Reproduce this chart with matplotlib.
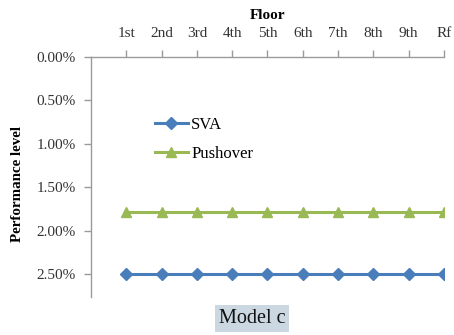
import matplotlib
matplotlib.use("Agg")
import matplotlib.pyplot as plt
from matplotlib.ticker import FuncFormatter

floors = ["1st", "2nd", "3rd", "4th", "5th", "6th", "7th", "8th", "9th", "Rf"]
sva = [2.50] * 10
pushover = [1.78] * 10
yticks = [0.0, 0.5, 1.0, 1.5, 2.0, 2.5]

plt.rcParams['font.family'] = ['Liberation Serif', 'DejaVu Serif']

fig = plt.figure(figsize=(4.54, 3.35), dpi=100)
ax = fig.add_axes([0.2004, 0.1134, 0.7775, 0.7165])

x = list(range(1, len(floors) + 1))
ax.plot(x, sva, color='#4a7ebb', lw=2.2, marker='D', ms=6, label='SVA')
ax.plot(x, pushover, color='#98b954', lw=2.2, marker='^', ms=7, label='Pushover')

ax.set_xlim(0, 10)
ax.set_ylim(2.765, 0)
ax.set_xticks(x)
ax.set_xticklabels(floors)
ax.set_yticks(yticks)
ax.yaxis.set_major_formatter(FuncFormatter(lambda v, p: f"{v:.2f}%"))
ax.xaxis.tick_top()
ax.xaxis.set_label_position('top')
ax.set_xlabel('Floor', fontsize=11, fontweight='bold')
ax.xaxis.set_label_coords(0.5, 1.16)
ax.set_ylabel('Performance level', fontsize=10.8, fontweight='bold')
ax.yaxis.set_label_coords(-0.19, 0.47)

for s in ['right', 'bottom']:
    ax.spines[s].set_visible(False)
for s in ['left', 'top']:
    ax.spines[s].set_color('#9a9a9a')
    ax.spines[s].set_linewidth(1.0)
ax.tick_params(axis='both', colors='#9a9a9a', labelcolor='#333333', labelsize=11, length=5, width=1.0)
ax.tick_params(axis='x', direction='out', pad=7)
ax.tick_params(axis='y', pad=6)

ax.legend(loc='upper left', bbox_to_anchor=(0.18, 0.75), frameon=False, fontsize=12,
          handlelength=2.0, labelspacing=0.8, handletextpad=0.2, borderaxespad=0, borderpad=0)

fig.text(0.555, 0.05, 'Model c', ha='center', va='center', fontsize=14.5, color='#111111',
         family='Liberation Serif',
         bbox=dict(boxstyle='square,pad=0.2', facecolor='#cbd8e2', edgecolor='none'))

fig.savefig('out.png', dpi=100)
